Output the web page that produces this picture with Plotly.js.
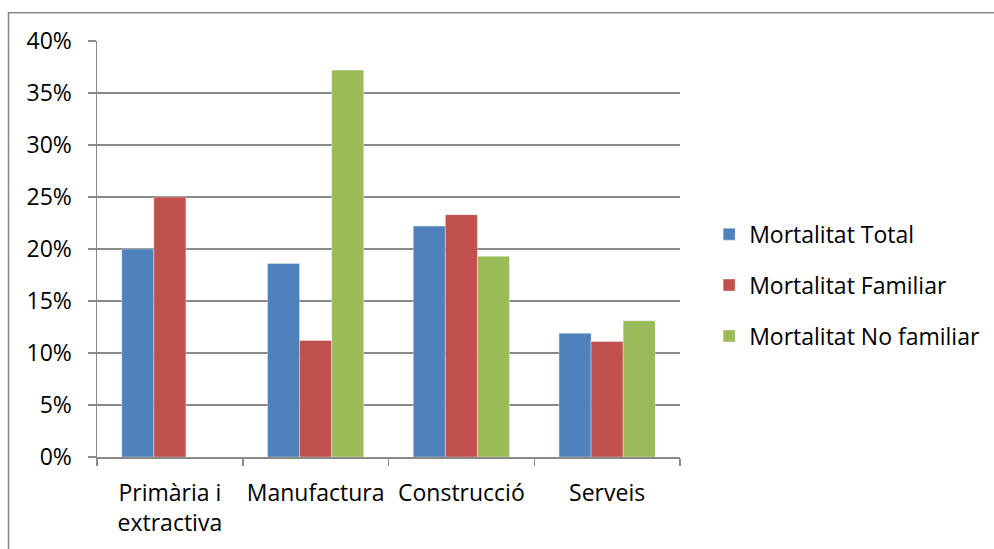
<!DOCTYPE html>
<html>
<head>
<meta charset="utf-8">
<script src="https://cdn.plot.ly/plotly-3.0.1.min.js"></script>
<style>
  html, body { margin: 0; padding: 0; background: #fff; }
  #chart { width: 994px; height: 549px; }
</style>
</head>
<body>
<div id="chart"></div>
<script>
// Sectors of activity
const categories = ['Primària i<br>extractiva', 'Manufactura', 'Construcció', 'Serveis'];

// Mortality rates per sector (fractions)
const mortalitatTotal = [0.200, 0.186, 0.222, 0.119];
const mortalitatFamiliar = [0.250, 0.112, 0.233, 0.111];
const mortalitatNoFamiliar = [null, 0.372, 0.193, 0.131];

const seriesNames = ['Mortalitat Total', 'Mortalitat Familiar', 'Mortalitat No familiar'];
const seriesColors = ['#4F81BD', '#C0504D', '#9BBB59'];
const seriesValues = [mortalitatTotal, mortalitatFamiliar, mortalitatNoFamiliar];

const yTickVals = [0, 0.05, 0.10, 0.15, 0.20, 0.25, 0.30, 0.35, 0.40];
const yTickText = ['0%', '5%', '10%', '15%', '20%', '25%', '30%', '35%', '40%'];

const fontFamily = '"Open Sans", Lato, sans-serif';
const fontSize = 23;
const gridColor = '#898989';

const traces = seriesValues.map((vals, i) => ({
  type: 'bar',
  name: seriesNames[i],
  x: categories,
  y: vals,
  legendgroup: 'g' + i,
  marker: { color: seriesColors[i], line: { color: 'rgba(255,255,255,0.6)', width: 0.6 } },
  hoverinfo: 'x+y+name'
}));

const layout = {
  width: 994,
  height: 549,
  margin: { l: 97, r: 314, t: 41, b: 92, autoexpand: false },
  paper_bgcolor: '#ffffff',
  plot_bgcolor: '#ffffff',
  barmode: 'group',
  bargap: 0.34,
  bargroupgap: 0,
  font: { family: fontFamily, size: fontSize, color: '#000000' },
  xaxis: {
    type: 'category',
    automargin: false,
    tickangle: 0,
    showline: true,
    linecolor: gridColor,
    linewidth: 1.5,
    ticks: 'outside',
    tickson: 'boundaries',
    ticklen: 7,
    tickwidth: 1.5,
    tickcolor: gridColor,
    ticklabelstandoff: 15,
    showgrid: false,
    zeroline: false,
    tickfont: { family: fontFamily, size: fontSize, color: '#000' }
  },
  yaxis: {
    range: [0, 0.40],
    automargin: false,
    tickvals: yTickVals,
    ticktext: yTickText,
    showline: true,
    linecolor: gridColor,
    linewidth: 1.5,
    ticks: 'outside',
    ticklen: 8,
    tickwidth: 1.5,
    tickcolor: gridColor,
    ticklabelstandoff: 11,
    showgrid: true,
    gridcolor: gridColor,
    gridwidth: 1.5,
    zeroline: false,
    tickfont: { family: fontFamily, size: fontSize, color: '#000' }
  },
  legend: {
    x: 1.05,
    xanchor: 'left',
    y: 0.413,
    yanchor: 'middle',
    tracegroupgap: 18,
    font: { family: fontFamily, size: fontSize, color: '#000' },
    bgcolor: 'rgba(0,0,0,0)'
  },
  shapes: [{
    type: 'rect',
    xref: 'paper', yref: 'paper',
    x0: -0.1518, x1: 1.6,
    y0: -0.3, y1: 1.068,
    line: { color: '#888888', width: 1.5 },
    fillcolor: 'rgba(0,0,0,0)',
    layer: 'below'
  }],
  showlegend: true
};

Plotly.newPlot('chart', traces, layout, { displayModeBar: false, staticPlot: true });
</script>
</body>
</html>
